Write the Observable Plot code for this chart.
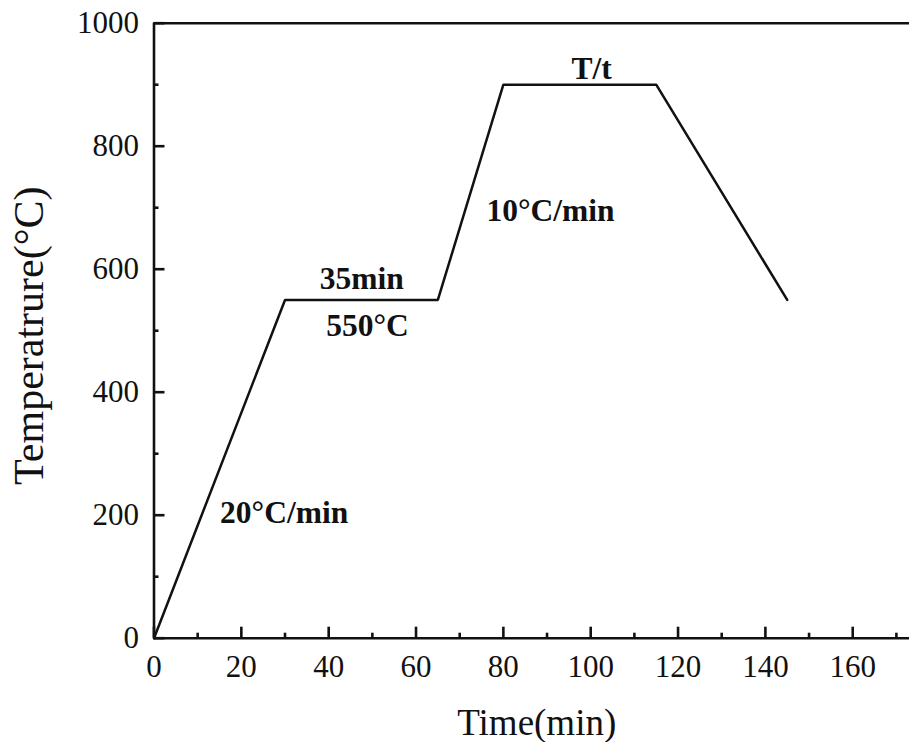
<!DOCTYPE html>
<html>
<head>
<meta charset="utf-8">
<script src="https://cdn.jsdelivr.net/npm/d3@7"></script>
<script src="https://cdn.jsdelivr.net/npm/@observablehq/plot@0.6"></script>
<style>
  html, body { margin: 0; padding: 0; background: #fff; }
  #chart { width: 909px; height: 742px; }
</style>
</head>
<body>
<div id="chart"></div>
<script>
// Heat-treatment schedule
const time = [0, 30, 65, 80, 115, 145];        // min
const temp = [0, 550, 550, 900, 900, 550];     // °C

const xTicks = [0, 20, 40, 60, 80, 100, 120, 140, 160];
const xMinor = [10, 30, 50, 70, 90, 110, 130, 150, 170];
const yTicks = [0, 200, 400, 600, 800, 1000];
const yMinor = [100, 300, 500, 700, 900];

const noteText = ["35min", "550°C", "T/t", "10°C/min", "20°C/min"];
const noteX = [47.6, 48.9, 100.2, 90.8, 29.8];
const noteY = [585, 508, 926, 694, 204];

const path = time.map((t, i) => ({t, T: temp[i]}));
const notes = noteText.map((s, i) => ({s, x: noteX[i], y: noteY[i]}));

const W = 909, H = 742;
const mL = 153.5, mR = 0, mT = 22.7, mB = 104.3;
const xPx = (W - mL - mR) / 173;   // px per minute
const yPx = (H - mT - mB) / 1000;  // px per °C
const major = 11, minor = 5, sw = 2.6;

const plot = Plot.plot({
  width: W, height: H,
  marginLeft: mL, marginRight: mR, marginTop: mT, marginBottom: mB,
  style: {fontFamily: "'Liberation Serif', 'Times New Roman', serif", fontSize: "31px", color: "#111", background: "#fff"},
  x: {domain: [0, 173], label: null},
  y: {domain: [0, 1000], label: null},
  marks: [
    // frame lines
    Plot.ruleY([0, 1000], {strokeWidth: sw, stroke: "#111"}),
    Plot.ruleX([0], {strokeWidth: sw, stroke: "#111"}),
    // inward ticks
    Plot.ruleX(xTicks, {x: d => d, y1: 0, y2: major / yPx, strokeWidth: sw, stroke: "#111"}),
    Plot.ruleX(xMinor, {x: d => d, y1: 0, y2: minor / yPx, strokeWidth: sw, stroke: "#111"}),
    Plot.ruleY(yTicks, {y: d => d, x1: 0, x2: major / xPx, strokeWidth: sw, stroke: "#111"}),
    Plot.ruleY(yMinor, {y: d => d, x1: 0, x2: minor / xPx, strokeWidth: sw, stroke: "#111"}),
    // tick labels
    Plot.axisX(xTicks, {tickSize: 0, tickPadding: 17, label: null, fontSize: 31, tickFormat: d => String(d)}),
    Plot.axisY(yTicks, {tickSize: 0, tickPadding: 15, label: null, fontSize: 31, tickFormat: d => String(d)}),
    // data
    Plot.line(path, {x: "t", y: "T", stroke: "#111", strokeWidth: 2.5, strokeLinejoin: "miter"}),
    // annotations
    Plot.text(notes, {x: "x", y: "y", text: "s", fontWeight: "bold", fontSize: 31.5, lineAnchor: "middle", fill: "#111"}),
    // axis titles
    Plot.text(["Time(min)"], {frameAnchor: "bottom", dx: 5, dy: 85, lineAnchor: "middle", fontSize: 37, fill: "#111"}),
    Plot.text(["Temperatrure(°C)"], {frameAnchor: "left", dx: 29 - mL, dy: 5, rotate: -90, lineAnchor: "middle", textAnchor: "middle", fontSize: 42, fill: "#111"})
  ]
});
document.getElementById("chart").appendChild(plot);
</script>
</body>
</html>
